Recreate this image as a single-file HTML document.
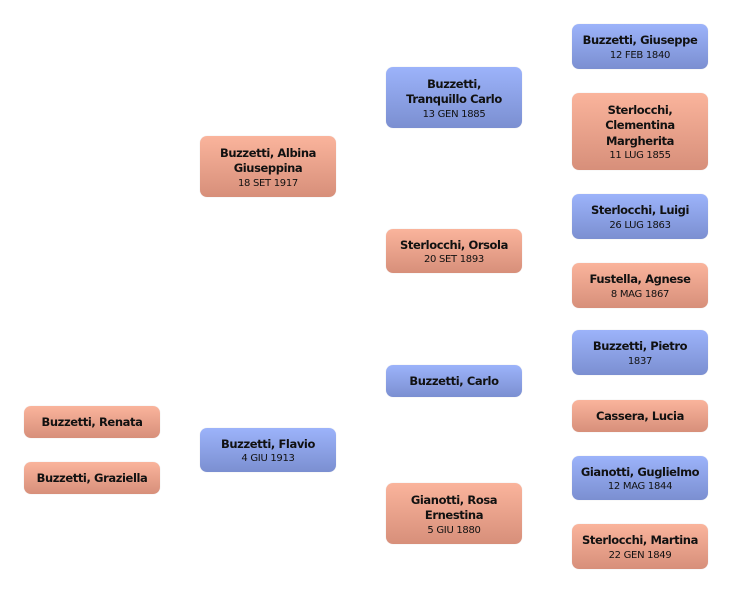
<!DOCTYPE html>
<html><head><meta charset="utf-8"><style>
body{margin:0;width:732px;height:593px;background:#fff;position:relative;overflow:hidden;font-family:"DejaVu Sans","Liberation Sans",sans-serif;}
.b{position:absolute;width:136px;border-radius:7px;display:flex;flex-direction:column;justify-content:center;align-items:center;text-align:center;color:#111;box-shadow:0 0 1px rgba(0,0,0,0.15);padding-top:2px;box-sizing:border-box;}
.m{background:linear-gradient(#9cb3fa,#7b8fd1);}
.f{background:linear-gradient(#fab49c,#d78f7a);}
.n{font-weight:bold;font-size:11.5px;line-height:15.5px;letter-spacing:-0.4px;}
.d{font-size:10px;line-height:13px;letter-spacing:-0.3px;}
</style></head><body>
<div class="b m" style="left:572px;top:24px;height:45px"><div class="n">Buzzetti, Giuseppe</div><div class="d">12 FEB 1840</div></div>
<div class="b f" style="left:572px;top:93px;height:77px"><div class="n">Sterlocchi,<br>Clementina<br>Margherita</div><div class="d">11 LUG 1855</div></div>
<div class="b m" style="left:386px;top:67px;height:61px"><div class="n">Buzzetti,<br>Tranquillo Carlo</div><div class="d">13 GEN 1885</div></div>
<div class="b f" style="left:200px;top:136px;height:61px"><div class="n">Buzzetti, Albina<br>Giuseppina</div><div class="d">18 SET 1917</div></div>
<div class="b f" style="left:386px;top:229px;height:44px"><div class="n">Sterlocchi, Orsola</div><div class="d">20 SET 1893</div></div>
<div class="b m" style="left:572px;top:194px;height:45px"><div class="n">Sterlocchi, Luigi</div><div class="d">26 LUG 1863</div></div>
<div class="b f" style="left:572px;top:263px;height:45px"><div class="n">Fustella, Agnese</div><div class="d">8 MAG 1867</div></div>
<div class="b m" style="left:572px;top:330px;height:45px"><div class="n">Buzzetti, Pietro</div><div class="d">1837</div></div>
<div class="b m" style="left:386px;top:365px;height:32px"><div class="n">Buzzetti, Carlo</div></div>
<div class="b f" style="left:572px;top:400px;height:32px"><div class="n">Cassera, Lucia</div></div>
<div class="b f" style="left:24px;top:406px;height:32px"><div class="n">Buzzetti, Renata</div></div>
<div class="b m" style="left:200px;top:428px;height:44px"><div class="n">Buzzetti, Flavio</div><div class="d">4 GIU 1913</div></div>
<div class="b f" style="left:24px;top:462px;height:32px"><div class="n">Buzzetti, Graziella</div></div>
<div class="b m" style="left:572px;top:456px;height:44px"><div class="n">Gianotti, Guglielmo</div><div class="d">12 MAG 1844</div></div>
<div class="b f" style="left:386px;top:483px;height:61px"><div class="n">Gianotti, Rosa<br>Ernestina</div><div class="d">5 GIU 1880</div></div>
<div class="b f" style="left:572px;top:524px;height:45px"><div class="n">Sterlocchi, Martina</div><div class="d">22 GEN 1849</div></div>
</body></html>
